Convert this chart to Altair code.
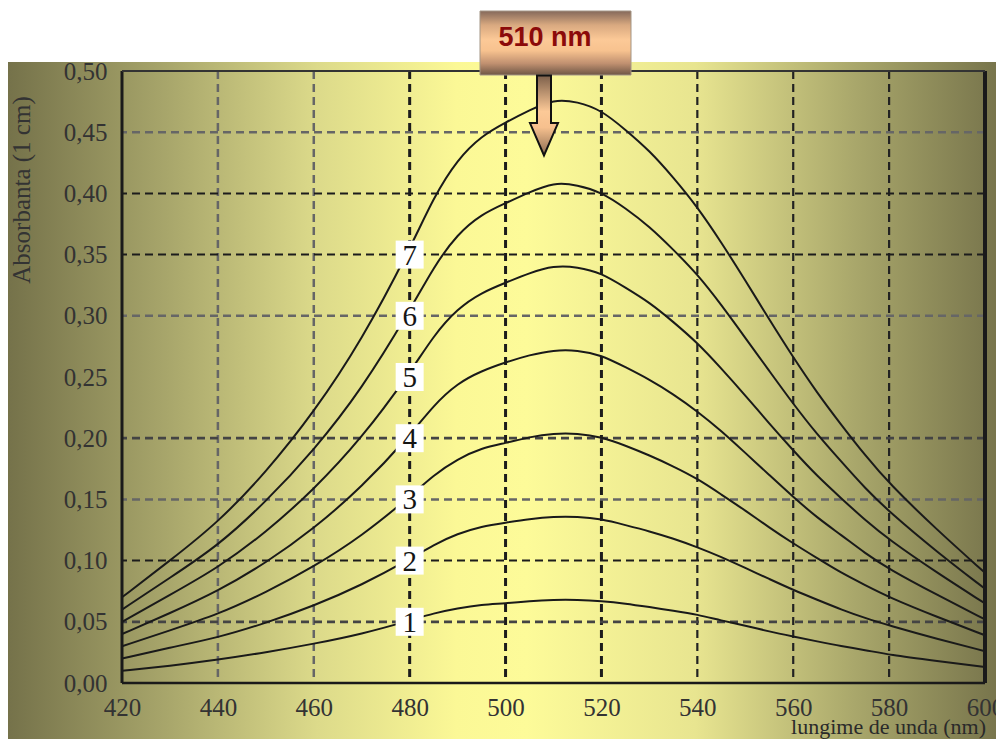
import altair as alt
import pandas as pd

# wavelengths (nm)
nm = [420, 430, 440, 450, 460, 470, 480, 485, 490, 495, 500, 505, 510, 515, 520,
      525, 530, 535, 540, 545, 550, 555, 560, 565, 570, 575, 580, 590, 600]

s1 = [0.010, 0.014, 0.019, 0.025, 0.032, 0.040, 0.051, 0.057, 0.061, 0.064, 0.065, 0.067, 0.068, 0.068, 0.067,
      0.065, 0.062, 0.059, 0.056, 0.051, 0.047, 0.042, 0.038, 0.034, 0.030, 0.027, 0.023, 0.018, 0.013]
s2 = [0.020, 0.029, 0.037, 0.049, 0.063, 0.080, 0.101, 0.113, 0.122, 0.128, 0.131, 0.134, 0.136, 0.136, 0.134,
      0.129, 0.124, 0.118, 0.111, 0.103, 0.094, 0.085, 0.076, 0.068, 0.060, 0.053, 0.047, 0.036, 0.026]
s3 = [0.030, 0.043, 0.056, 0.074, 0.095, 0.120, 0.152, 0.170, 0.183, 0.192, 0.196, 0.201, 0.204, 0.204, 0.201,
      0.194, 0.186, 0.177, 0.167, 0.154, 0.141, 0.127, 0.114, 0.102, 0.090, 0.080, 0.070, 0.054, 0.039]
s4 = [0.040, 0.057, 0.075, 0.098, 0.126, 0.160, 0.202, 0.227, 0.245, 0.255, 0.262, 0.268, 0.272, 0.272, 0.268,
      0.258, 0.248, 0.236, 0.222, 0.206, 0.188, 0.170, 0.152, 0.135, 0.121, 0.106, 0.093, 0.072, 0.052]
s5 = [0.050, 0.072, 0.094, 0.123, 0.158, 0.200, 0.253, 0.284, 0.306, 0.319, 0.327, 0.335, 0.341, 0.340, 0.335,
      0.323, 0.311, 0.295, 0.278, 0.257, 0.235, 0.212, 0.190, 0.169, 0.151, 0.133, 0.117, 0.090, 0.065]
s6 = [0.060, 0.086, 0.112, 0.148, 0.190, 0.240, 0.304, 0.340, 0.367, 0.383, 0.392, 0.401, 0.409, 0.407, 0.401,
      0.388, 0.373, 0.354, 0.334, 0.309, 0.282, 0.255, 0.228, 0.203, 0.181, 0.159, 0.140, 0.107, 0.077]
s7 = [0.070, 0.100, 0.131, 0.172, 0.221, 0.280, 0.354, 0.397, 0.428, 0.447, 0.458, 0.468, 0.477, 0.475, 0.468,
      0.452, 0.435, 0.413, 0.389, 0.360, 0.329, 0.297, 0.266, 0.237, 0.211, 0.186, 0.163, 0.125, 0.090]

series_names = ["1", "2", "3", "4", "5", "6", "7"]
series_values = [s1, s2, s3, s4, s5, s6, s7]

label_x = 480
label_y = [0.05, 0.10, 0.15, 0.20, 0.25, 0.30, 0.35]

x_ticks = [420, 440, 460, 480, 500, 520, 540, 560, 580, 600]
y_ticks = [0.0, 0.05, 0.10, 0.15, 0.20, 0.25, 0.30, 0.35, 0.40, 0.45, 0.50]

grid_x_grey = [440, 460]
grid_x_thick = [480, 500, 520]
grid_x_black = [540, 560, 580]
grid_y_grey = [0.45, 0.30, 0.15]
grid_y_black = [0.40, 0.35, 0.10]
grid_y_dark = [0.20, 0.05]

peak_text = "510 nm"
y_title = "Absorbanta (1 cm)"
x_title = "lungime de unda (nm)"

W, H = 863, 612
SERIF = "Liberation Serif"

rows = []
for name, vals in zip(series_names, series_values):
    for w, a in zip(nm, vals):
        rows.append({"nm": w, "A": a, "serie": name})
curves_df = pd.DataFrame(rows)

sx = alt.Scale(domain=[420, 600], nice=False, zero=False)
sy = alt.Scale(domain=[0, 0.5], nice=False, zero=False)

x_axis = alt.Axis(
    values=x_ticks, title=None, grid=False, domain=False, ticks=False, tickSize=0,
    labelFont=SERIF, labelFontSize=25, labelColor="#333333", labelPadding=12,
    labelFlush=False, labelOverlap=False, zindex=2)
y_axis = alt.Axis(
    values=y_ticks, title=None, grid=False, domain=False, ticks=False, tickSize=0,
    labelFont=SERIF, labelFontSize=25, labelColor="#333333", labelPadding=15,
    format=".2f", labelExpr="replace(datum.label, '.', ',')",
    labelFlush=False, labelOverlap=False, zindex=2)


def X():
    return alt.X("nm:Q", scale=sx, axis=x_axis)


def Y():
    return alt.Y("A:Q", scale=sy, axis=y_axis)


one = alt.Data(values=[{"k": 1}])

# background gradient panel
bg = alt.Chart(one).mark_rect(
    fill=alt.Gradient(
        gradient="linear", x1=0, x2=1, y1=0, y2=0,
        stops=[
            alt.GradientStop(color="#75724a", offset=0.0),
            alt.GradientStop(color="#a8a66b", offset=0.16),
            alt.GradientStop(color="#dcda8a", offset=0.31),
            alt.GradientStop(color="#fbf896", offset=0.45),
            alt.GradientStop(color="#fdfb99", offset=0.52),
            alt.GradientStop(color="#e8e590", offset=0.69),
            alt.GradientStop(color="#a9a76b", offset=0.85),
            alt.GradientStop(color="#75724a", offset=1.0),
        ],
    )
).encode(x=alt.value(-114), x2=alt.value(882), y=alt.value(-9), y2=alt.value(700))


def vrules(vals, color, width):
    return alt.Chart(pd.DataFrame({"nm": vals})).mark_rule(
        color=color, strokeWidth=width, strokeDash=[8, 5]
    ).encode(x=X())


def hrules(vals, color, width):
    return alt.Chart(pd.DataFrame({"A": vals})).mark_rule(
        color=color, strokeWidth=width, strokeDash=[8, 5]
    ).encode(y=Y())


grids = [
    vrules(grid_x_grey, "#666666", 2.5),
    vrules(grid_x_thick, "#1c1c1c", 3),
    vrules(grid_x_black, "#222222", 2.2),
    hrules(grid_y_grey, "#666666", 2.5),
    hrules(grid_y_black, "#1c1c1c", 2),
    hrules(grid_y_dark, "#444444", 2.8),
]

frame = [
    alt.Chart(pd.DataFrame({"nm": [420]})).mark_rule(color="#1a1a1a", strokeWidth=3).encode(x=X()),
    alt.Chart(pd.DataFrame({"nm": [600]})).mark_rule(color="#1a1a1a", strokeWidth=4).encode(x=X()),
    alt.Chart(pd.DataFrame({"A": [0.0]})).mark_rule(color="#1a1a1a", strokeWidth=2.5).encode(y=Y()),
    alt.Chart(pd.DataFrame({"A": [0.5]})).mark_rule(color="#333333", strokeWidth=2).encode(y=Y()),
]

curves = alt.Chart(curves_df).mark_line(
    color="#1a1a1a", strokeWidth=2, interpolate="basis"
).encode(x=X(), y=Y(), detail="serie:N")

lab_df = pd.DataFrame({"nm": [label_x] * len(label_y), "A": label_y, "t": series_names})
boxes = alt.Chart(lab_df).mark_square(size=784, color="white", opacity=1, filled=True).encode(
    x=X(), y=Y())
box_text = alt.Chart(lab_df).mark_text(
    font=SERIF, fontSize=29, color="#151515", baseline="middle", align="center", dy=1
).encode(x=X(), y=Y(), text="t:N")

callout = alt.Chart(one).mark_rect(
    fill=alt.Gradient(
        gradient="linear", x1=0, x2=0, y1=0, y2=1,
        stops=[
            alt.GradientStop(color="#85695a", offset=0.0),
            alt.GradientStop(color="#d9a980", offset=0.22),
            alt.GradientStop(color="#fcc997", offset=0.45),
            alt.GradientStop(color="#f7c28f", offset=0.62),
            alt.GradientStop(color="#c09070", offset=0.82),
            alt.GradientStop(color="#6e5645", offset=1.0),
        ],
    ),
    stroke="#a39585", strokeWidth=1,
).encode(x=alt.value(358), x2=alt.value(509), y=alt.value(-60), y2=alt.value(4))

arrow_path = "M -0.175 -1 L 0.175 -1 L 0.175 0.19 L 0.35 0.19 L 0 1 L -0.35 0.19 L -0.175 0.19 Z"
arrow = alt.Chart(one).mark_point(
    shape=arrow_path, size=6400, filled=True, opacity=1,
    fill=alt.Gradient(
        gradient="linear", x1=0, x2=0, y1=0, y2=1,
        stops=[
            alt.GradientStop(color="#7d604b", offset=0.0),
            alt.GradientStop(color="#fcc997", offset=0.45),
            alt.GradientStop(color="#f6c08e", offset=0.65),
            alt.GradientStop(color="#8a6a50", offset=1.0),
        ],
    ),
    stroke="#111111", strokeWidth=2,
).encode(x=alt.value(422), y=alt.value(44.5))

callout_text = alt.Chart(one).mark_text(
    text=peak_text, font="Liberation Sans", fontWeight="bold", fontSize=27,
    color="#8b0a0a", align="center", baseline="middle"
).encode(x=alt.value(423), y=alt.value(-33))

ytitle = alt.Chart(one).mark_text(
    text=y_title, font=SERIF, fontSize=25, color="#333333", angle=270,
    align="center", baseline="middle"
).encode(x=alt.value(-100), y=alt.value(119))

xtitle = alt.Chart(one).mark_text(
    text=x_title, font=SERIF, fontSize=22, color="#2a2a2a",
    align="right", baseline="alphabetic"
).encode(x=alt.value(864), y=alt.value(663))

chart = alt.layer(
    bg, *grids, curves, *frame, boxes, box_text, callout, arrow, callout_text, ytitle, xtitle
).properties(
    width=W, height=H,
    padding={"left": 114, "top": 63, "right": 11, "bottom": 56},
    autosize=alt.AutoSizeParams(type="none"),
    background="white",
).configure_view(stroke=None)

chart.save("out.html", embed_options={"renderer": "svg", "actions": False})
